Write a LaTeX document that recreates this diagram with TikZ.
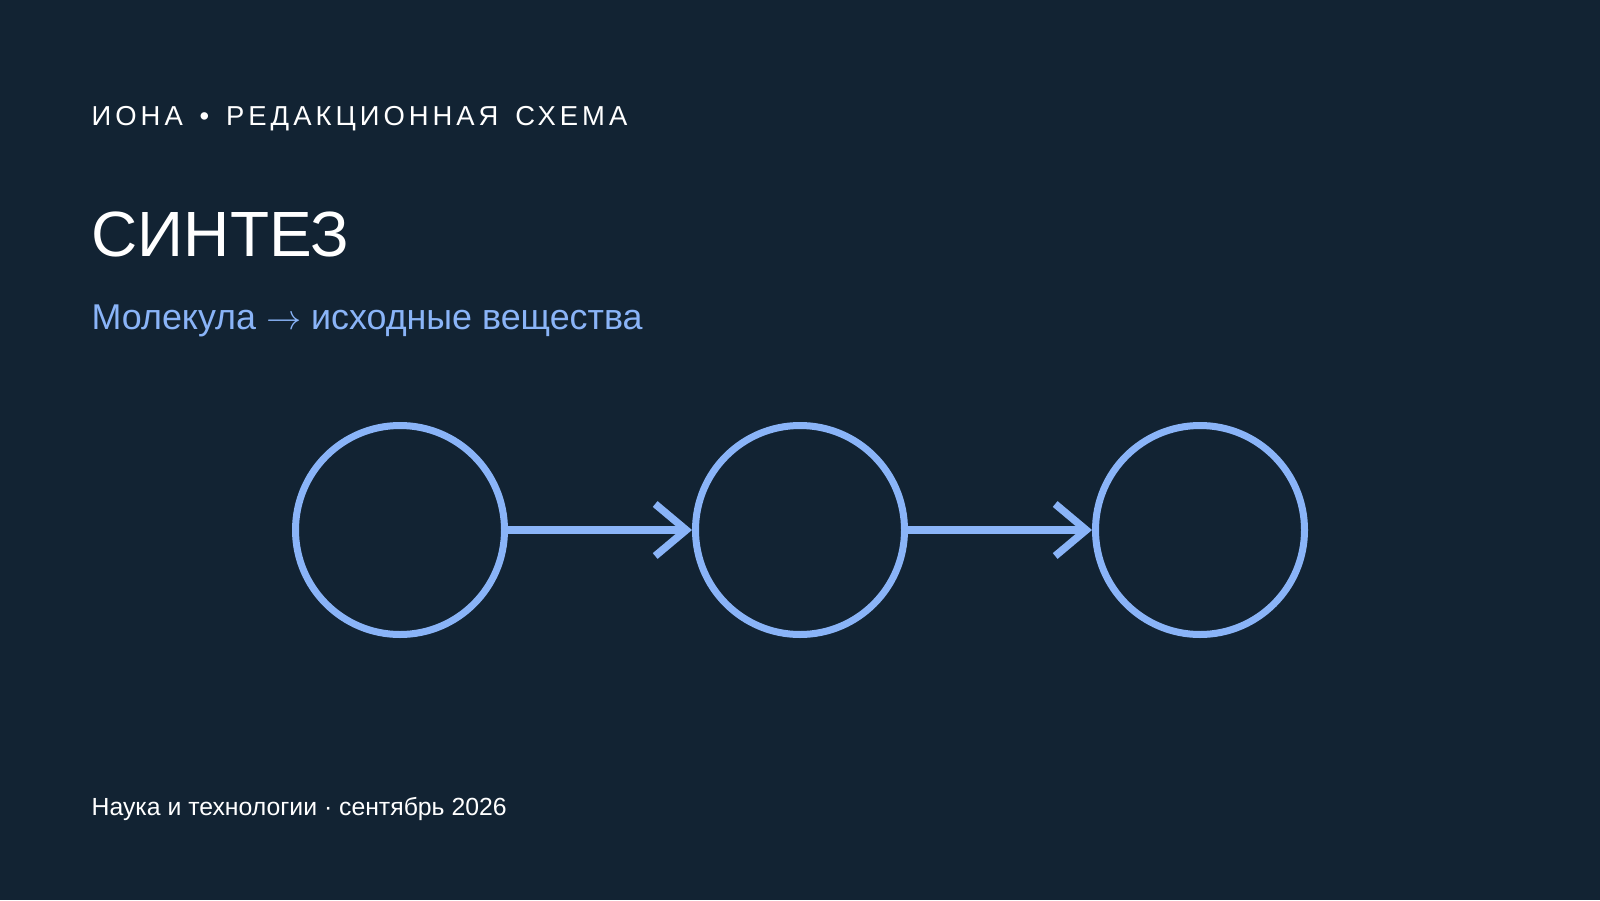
\documentclass[tikz,border=0pt]{standalone}
\usepackage{fontspec}
\setmainfont{Liberation Sans}
\newfontfamily\spacedfont[LetterSpace=14.6, WordSpace=1.45]{Liberation Sans}
\usetikzlibrary{arrows.meta}
\definecolor{bg}{HTML}{122333}
\definecolor{accent}{HTML}{8AB4F8}

\begin{document}
\begin{tikzpicture}[
		txt/.style={anchor=base west, inner sep=0pt, text=white},
		ring/.style={circle, draw=accent, line width=0.07cm, minimum size=2.09cm, inner sep=0pt},
		link/.style={draw=accent, line width=0.075cm, -{Straight Barb[length=3.1mm, width=5.2mm]}}
	]
			\fill[bg] (0,0) rectangle (16,9);

			\node[txt, font=\spacedfont\fontsize{7.8}{9}\selectfont] (head) at (0.91,7.745) {ИОНА • РЕДАКЦИОННАЯ СХЕМА};
			\node[txt, font=\fontsize{18.2}{22}\selectfont] (title) at (0.91,6.433) {СИНТЕЗ};
			\node[txt, text=accent, font=\fontsize{10.2}{12}\selectfont] (sub) at (0.91,5.71) {Молекула $\rightarrow$ исходные вещества};
			\node[txt, font=\fontsize{7.05}{8}\selectfont] (foot) at (0.91,0.85) {Наука и технологии · сентябрь 2026};

			\node[ring] (1) at (4,3.7) {};
			\node[ring] (2) at (8,3.7) {};
			\node[ring] (3) at (12,3.7) {};

			\draw[link] (1) -- (2);
			\draw[link] (2) -- (3);
		\end{tikzpicture}
\end{document}
